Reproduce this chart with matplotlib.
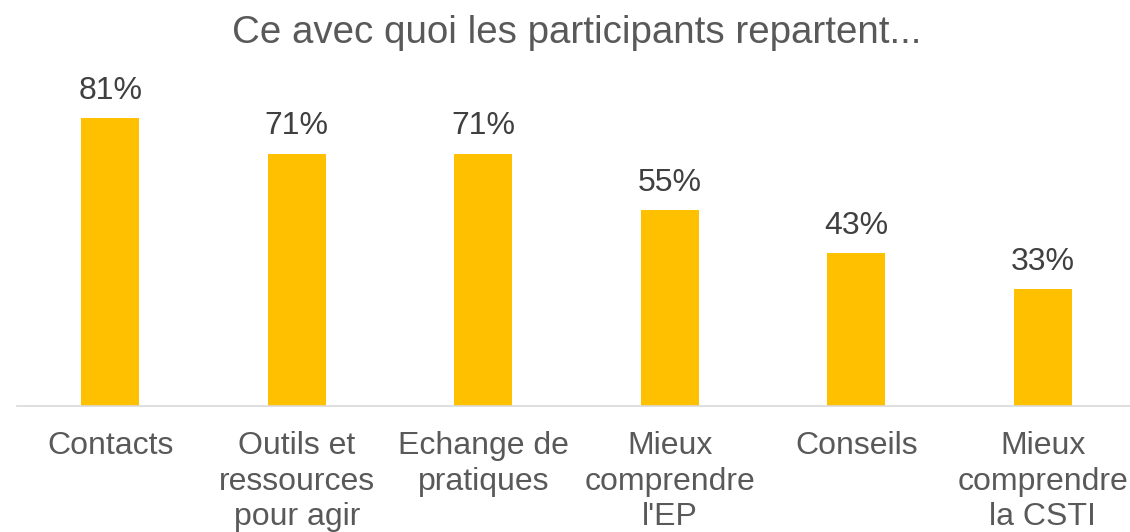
import numpy as np
import matplotlib.pyplot as plt

plt.rcParams['font.family'] = ['Liberation Sans', 'DejaVu Sans']

categories = ["Contacts", "Outils et\nressources\npour agir", "Echange de\npratiques",
              "Mieux\ncomprendre\nl'EP", "Conseils", "Mieux\ncomprendre\nla CSTI"]
values = [81, 71, 71, 55, 43, 33]

fig = plt.figure(figsize=(11.3, 5.32), dpi=100)
ax = fig.add_axes([17 / 1130, 126 / 532, 1119 / 1130, 346 / 532])

x = np.arange(len(categories))
ax.bar(x, values, width=0.31, color="#FFC000")

for xi, v in zip(x, values):
    ax.annotate(f"{v}%", (xi, v), xytext=(0, 13.7), textcoords="offset points",
                ha="center", va="baseline", fontsize=23, color="#404040")

ax.set_xlim(-0.5, 5.5)
ax.set_ylim(0, 97.3)
ax.set_xticks(x)
ax.set_xticklabels(categories, fontsize=23, color="#595959", linespacing=1.24)
ax.tick_params(axis="x", length=0, pad=18)
ax.set_yticks([])

for s in ["top", "left", "right"]:
    ax.spines[s].set_visible(False)
ax.spines["bottom"].set_color("#D9D9D9")
ax.spines["bottom"].set_linewidth(1.2)

ax.set_title("Ce avec quoi les participants repartent...", fontsize=27.7,
             color="#595959", pad=12)

fig.savefig("out.png", dpi=100)
